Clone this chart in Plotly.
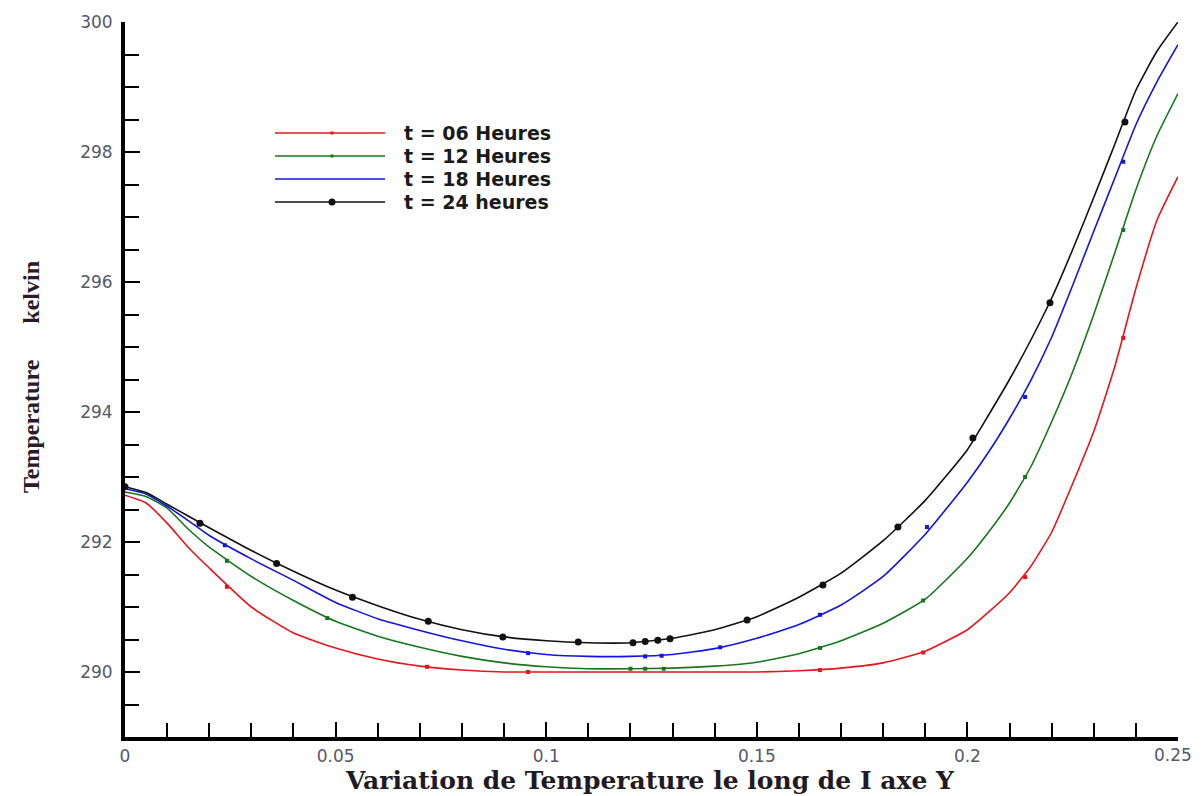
import plotly.graph_objects as go

# ---------------- data ----------------
x = [0, 0.005, 0.01, 0.015, 0.02, 0.03, 0.04, 0.05, 0.06, 0.07, 0.08, 0.09,
     0.10, 0.11, 0.12, 0.13, 0.14, 0.15, 0.16, 0.17, 0.18, 0.19, 0.20, 0.205,
     0.21, 0.215, 0.22, 0.225, 0.23, 0.235, 0.24, 0.245, 0.25]

t06 = [292.72, 292.60, 292.29, 291.92, 291.60, 291.00, 290.60, 290.37, 290.20, 290.09,
       290.03, 290.00, 290.00, 290.00, 290.00, 290.00, 290.00, 290.00, 290.02, 290.06,
       290.14, 290.32, 290.65, 290.92, 291.22, 291.62, 292.15, 292.90, 293.70, 294.70,
       295.90, 296.95, 297.62]
t12 = [292.77, 292.70, 292.52, 292.20, 291.92, 291.47, 291.10, 290.78, 290.55, 290.38,
       290.24, 290.14, 290.08, 290.05, 290.05, 290.06, 290.09, 290.15, 290.28, 290.48,
       290.75, 291.12, 291.75, 292.15, 292.60, 293.15, 293.85, 294.62, 295.50, 296.45,
       297.42, 298.25, 298.90]
t18 = [292.82, 292.74, 292.55, 292.33, 292.10, 291.74, 291.41, 291.07, 290.82, 290.64,
       290.48, 290.35, 290.27, 290.24, 290.24, 290.27, 290.36, 290.52, 290.73, 291.03,
       291.47, 292.12, 292.92, 293.38, 293.90, 294.48, 295.15, 295.95, 296.78, 297.60,
       298.42, 299.08, 299.65]
t24 = [292.85, 292.76, 292.58, 292.40, 292.22, 291.87, 291.55, 291.26, 291.02, 290.81,
       290.65, 290.54, 290.48, 290.45, 290.45, 290.52, 290.65, 290.85, 291.15, 291.52,
       292.02, 292.64, 293.42, 293.95, 294.50, 295.10, 295.75, 296.50, 297.30, 298.12,
       298.95, 299.55, 300.00]

# marker positions along each curve
m06_x = [0.0242, 0.0717, 0.0957, 0.165, 0.1895, 0.2137, 0.237]
m06_y = [291.31, 290.08, 290.00, 290.03, 290.30, 291.46, 295.14]
m12_x = [0.0242, 0.048, 0.12, 0.1235, 0.1279, 0.165, 0.1895, 0.2137, 0.237]
m12_y = [291.71, 290.83, 290.05, 290.05, 290.05, 290.37, 291.10, 293.00, 296.80]
m18_x = [0.0237, 0.0957, 0.1235, 0.1274, 0.1413, 0.165, 0.1904, 0.2137, 0.237]
m18_y = [291.95, 290.29, 290.24, 290.25, 290.38, 290.88, 292.23, 294.23, 297.85]
m24_x = [0, 0.0178, 0.036, 0.054, 0.072, 0.0897, 0.1076, 0.1206, 0.1235, 0.1265,
         0.1294, 0.1477, 0.1657, 0.1835, 0.2013, 0.2196, 0.2374]
m24_y = [292.85, 292.29, 291.67, 291.15, 290.78, 290.54, 290.46, 290.45, 290.47, 290.49,
         290.51, 290.80, 291.34, 292.23, 293.60, 295.68, 298.46]

labels = ["t = 06 Heures", "t = 12 Heures", "t = 18 Heures", "t = 24 heures"]
colors = ["#e8141c", "#17761c", "#1414e0", "#111111"]

x_ticks = [0, 0.05, 0.1, 0.15, 0.2, 0.25]
x_ticktext = ["0", "0.05", "0.1", "0.15", "0.2", "0.25"]
y_ticks = [290, 292, 294, 296, 298, 300]

x_title = "Variation de Temperature le long de I axe Y"
y_title = "Temperature" + "\u00a0" * 6 + "kelvin"

# ---------------- figure ----------------
# the page body adds an 8 px offset, so the figure is 8 px smaller and
# every page position below is shifted by OFF
OFF = 8
W, H = 1202 - OFF, 796 - OFF
L, T = 125 - OFF, 22 - OFF
PW, PH = 1053, 715
R, B = W - L - PW, H - T - PH


def px(page_x):
    return (page_x - OFF - L) / PW


def py(page_y):
    return (T + PH - (page_y - OFF)) / PH


fig = go.Figure()
series = [t06, t12, t18, t24]
marks = [(m06_x, m06_y), (m12_x, m12_y), (m18_x, m18_y), (m24_x, m24_y)]
msizes = [4, 4, 4, 7]
msym = ["square", "square", "square", "circle"]

for ys, col, lab in zip(series, colors, labels):
    fig.add_trace(go.Scatter(x=x, y=ys, mode="lines", name=lab,
                             line=dict(color=col, width=1.6, shape="spline", smoothing=0.5),
                             showlegend=False, hoverinfo="skip"))
for (mx, my), col, s, sym in zip(marks, colors, msizes, msym):
    fig.add_trace(go.Scatter(x=mx, y=my, mode="markers",
                             marker=dict(color=col, size=s, symbol=sym),
                             showlegend=False, hoverinfo="skip"))

# custom legend (long lines with a marker in the middle, text to the right)
leg_rows = [133, 156, 179, 202]
leg_marker = [3, 3, 0, 7]
shapes = []
annotations = []
for row, col, lab, ms in zip(leg_rows, colors, labels, leg_marker):
    ly = py(row)
    shapes.append(dict(type="line", xref="paper", yref="paper",
                       x0=px(275), x1=px(385), y0=ly, y1=ly,
                       line=dict(color=col, width=1.6)))
    if ms:
        cx = px(332)
        shapes.append(dict(type="circle" if ms > 4 else "rect", xref="paper", yref="paper",
                           x0=cx - ms / 2 / PW, x1=cx + ms / 2 / PW,
                           y0=ly - ms / 2 / PH, y1=ly + ms / 2 / PH,
                           fillcolor=col, line=dict(width=0)))
    annotations.append(dict(xref="paper", yref="paper", x=px(402), y=ly,
                            xanchor="left", yanchor="middle", showarrow=False,
                            text="<b>" + lab + "</b>",
                            font=dict(family="DejaVu Sans", size=19, color="#1a1a1a")))

tickfont = dict(family="DejaVu Sans", size=17, color="#55586a")

# the last x tick label sits right at the page edge: draw it as text nudged inwards
x_ticktext_axis = x_ticktext[:-1] + [""]
annotations.append(dict(xref="paper", yref="paper", x=px(1194), y=py(755),
                        xanchor="right", yanchor="middle", showarrow=False,
                        text=x_ticktext[-1], font=tickfont))

# axis titles
annotations.append(dict(xref="paper", yref="paper", x=px(650), y=py(780),
                        xanchor="center", yanchor="middle", showarrow=False,
                        text="<b>" + x_title + "</b>",
                        font=dict(family="DejaVu Serif", size=25, color="#221a22")))
annotations.append(dict(xref="paper", yref="paper", x=px(31), y=py(377),
                        xanchor="center", yanchor="middle", showarrow=False, textangle=-90,
                        text="<b>" + y_title + "</b>",
                        font=dict(family="Liberation Serif", size=24, color="#2a1a2a")))

fig.update_layout(
    width=W, height=H,
    margin=dict(l=L, r=R, t=T, b=B),
    paper_bgcolor="white", plot_bgcolor="white",
    shapes=shapes, annotations=annotations,
    xaxis=dict(range=[0, 0.25], tickvals=x_ticks, ticktext=x_ticktext_axis,
               ticks="inside", ticklen=15, tickwidth=2, tickcolor="black",
               showline=True, linecolor="black", linewidth=4, mirror=False,
               showgrid=False, zeroline=False, tickfont=tickfont,
               ticklabelstandoff=1, automargin=False,
               minor=dict(dtick=0.01, tick0=0, ticks="inside", ticklen=14,
                          tickwidth=2, tickcolor="black", showgrid=False)),
    yaxis=dict(range=[289, 300], tickvals=y_ticks,
               ticks="inside", ticklen=15, tickwidth=2, tickcolor="black",
               showline=True, linecolor="black", linewidth=4, mirror=False,
               showgrid=False, zeroline=False, tickfont=tickfont,
               ticklabelstandoff=5, automargin=False,
               minor=dict(dtick=0.5, tick0=289, ticks="inside", ticklen=14,
                          tickwidth=2, tickcolor="black", showgrid=False)),
)

fig.write_html("out.html", post_script="document.body.style.overflow='hidden';")
